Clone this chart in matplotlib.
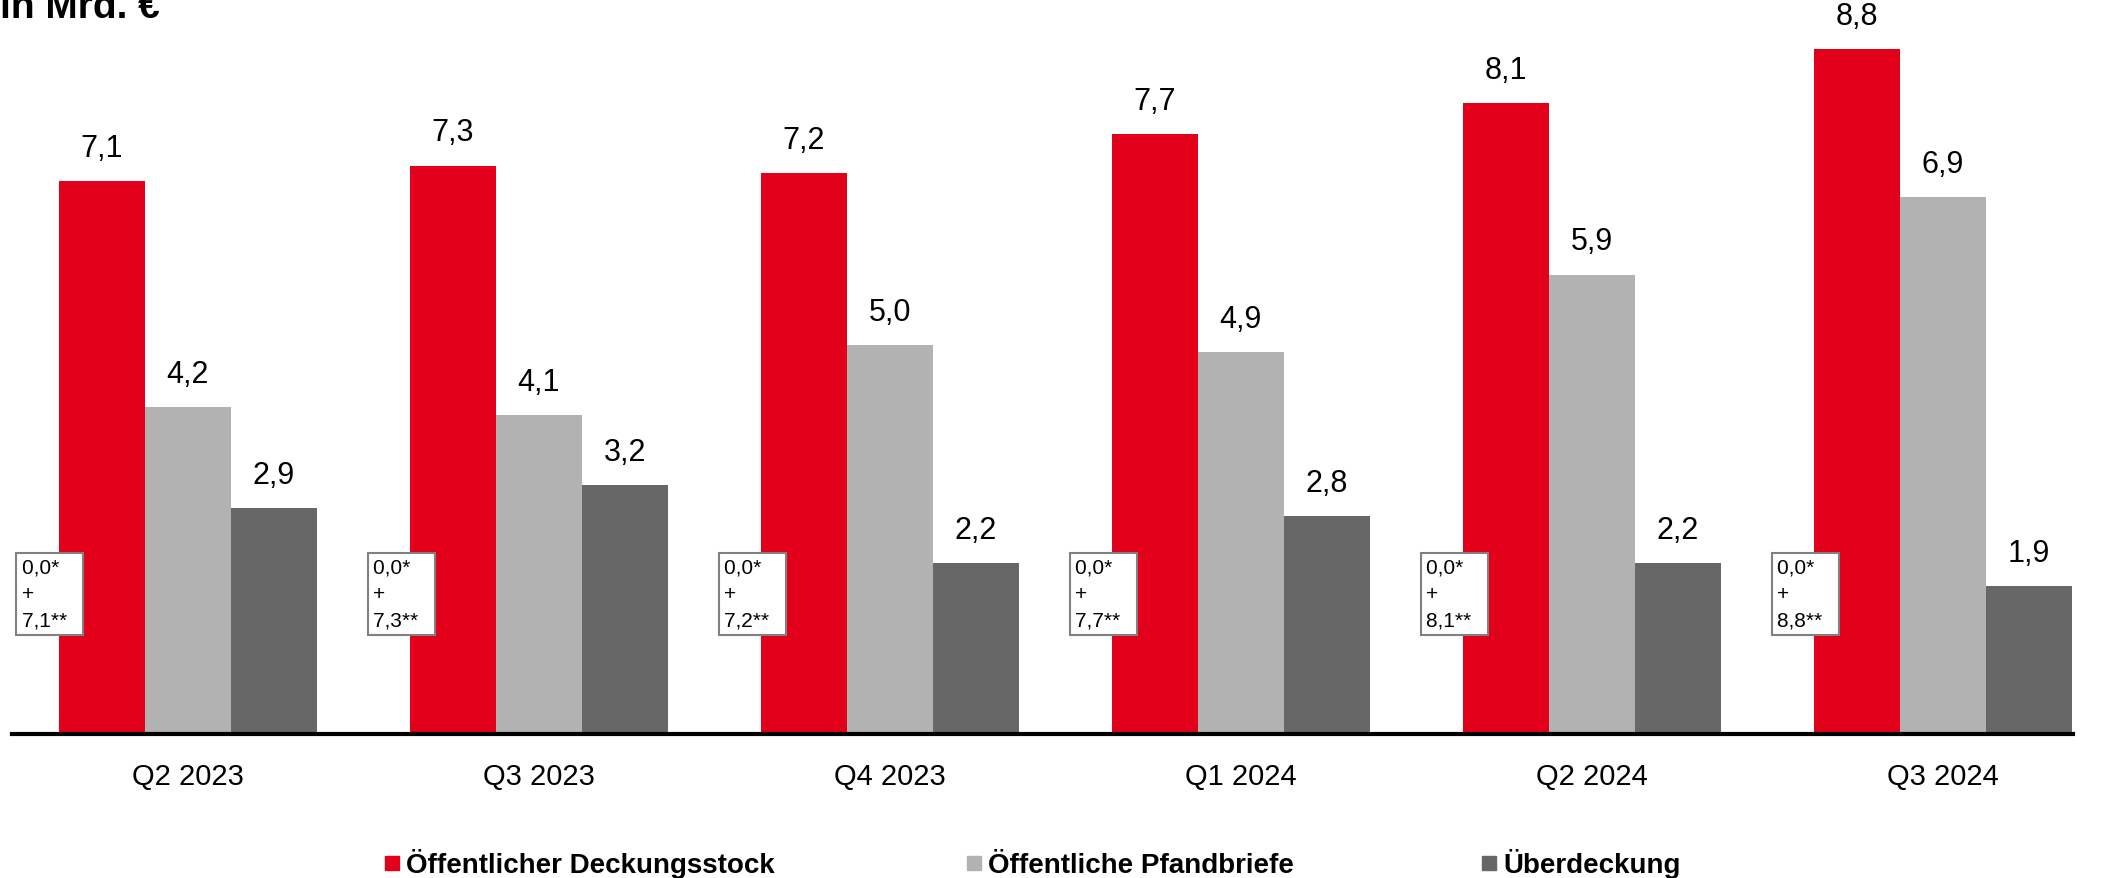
import matplotlib.pyplot as plt
import numpy as np
from matplotlib.patches import Rectangle

plt.rcParams['font.family'] = ['Liberation Sans', 'DejaVu Sans']

# data (in Mrd. €)
quarters = ["Q2 2023", "Q3 2023", "Q4 2023", "Q1 2024", "Q2 2024", "Q3 2024"]
deckungsstock = [7.1, 7.3, 7.2, 7.7, 8.1, 8.8]
pfandbriefe = [4.2, 4.1, 5.0, 4.9, 5.9, 6.9]
ueberdeckung = [2.9, 3.2, 2.2, 2.8, 2.2, 1.9]
box_first = [0.0, 0.0, 0.0, 0.0, 0.0, 0.0]

series_names = ["Öffentlicher Deckungsstock", "Öffentliche Pfandbriefe", "Überdeckung"]
colors = ["#E2001A", "#B2B2B2", "#676767"]


def de(v):
    return f"{v:.1f}".replace(".", ",")


W, H = 2103, 879
fig = plt.figure(figsize=(W / 100, H / 100), dpi=100)
ax = fig.add_axes([12 / W, 144 / H, (2073 - 12) / W, 732 / H])

x = np.arange(len(quarters))
bw = 86 / 351

for k, vals in enumerate([deckungsstock, pfandbriefe, ueberdeckung]):
    bars = ax.bar(x + (k - 1) * bw, vals, width=bw, color=colors[k], edgecolor="none")
    ax.bar_label(bars, labels=[de(v) for v in vals], padding=13, fontsize=22)

# small boxes next to red bars
for i, (a, b) in enumerate(zip(box_first, deckungsstock)):
    ax.text(x[i] - 1.5 * bw - 0.105, 1.8, f"{de(a)}*  \n+\n{de(b)}**  ",
            ha="left", va="center", fontsize=15, linespacing=1.5,
            bbox=dict(boxstyle="square,pad=0.25", fc="white", ec="#808080", lw=1.5))

ax.set_xlim(-0.5, 5.37)
ax.set_ylim(0, 9.4)
ax.set_xticks(x)
ax.set_xticklabels(quarters, fontsize=21)
ax.tick_params(axis="x", length=0, pad=20)
ax.set_yticks([])
ax.spines[["left", "right", "top"]].set_visible(False)
ax.spines["bottom"].set_linewidth(3)

# title sits at the very top edge, as in the original
fig.text(0, 1 - 18 / H, "in Mrd. €", fontsize=28, fontweight="bold", va="baseline")

# legend drawn by hand
marker_x = [385, 967, 1482]
for mx, name, c in zip(marker_x, series_names, colors):
    fig.patches.append(Rectangle((mx / W, 8 / H), 14 / W, 14 / H, color=c,
                                 transform=fig.transFigure, figure=fig))
    fig.text((mx + 21) / W, 6 / H, name, fontsize=20, fontweight="bold", va="baseline")

fig.savefig("out.png", dpi=100)
